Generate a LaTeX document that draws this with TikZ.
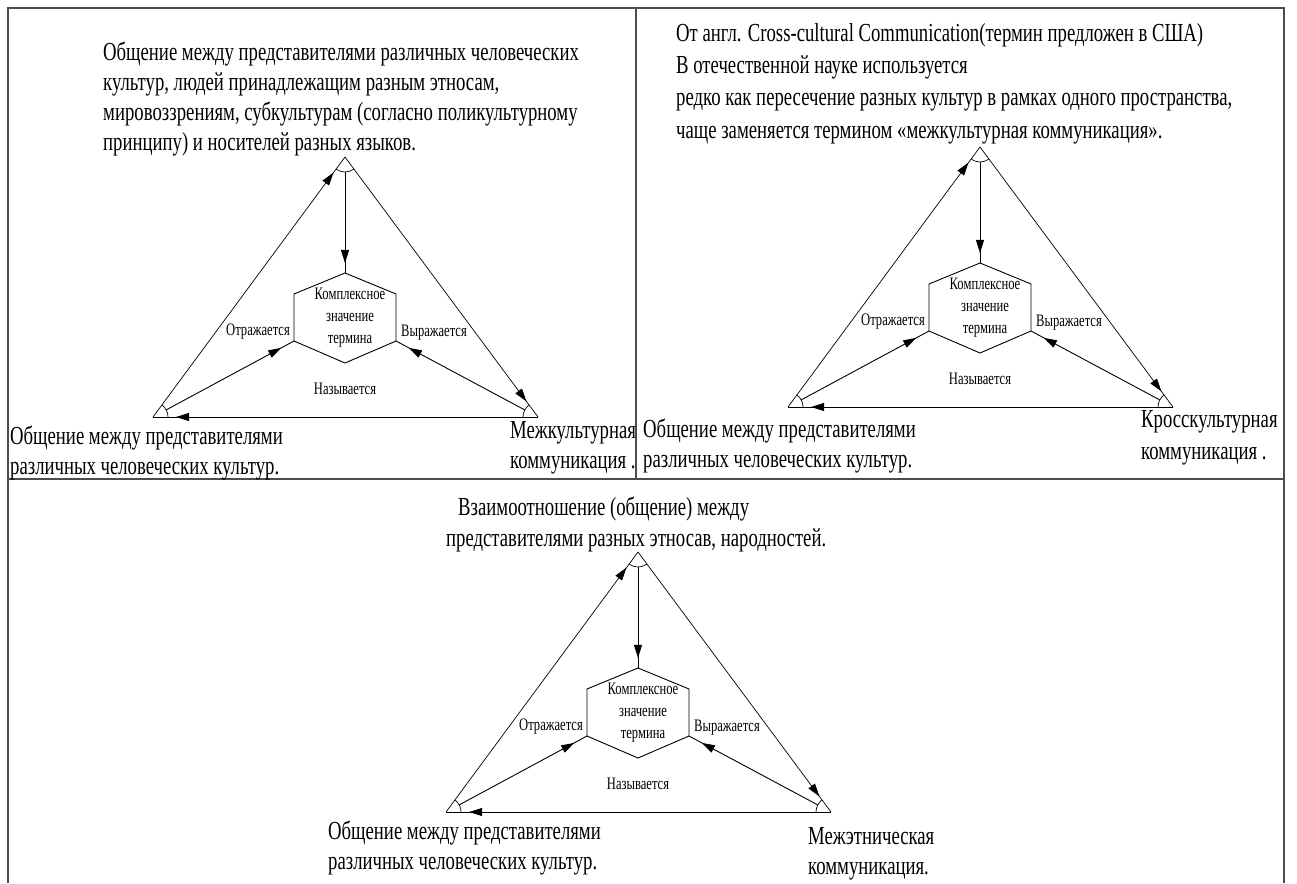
\documentclass[tikz,border=0pt]{standalone}
\usepackage{fontspec}
\setmainfont{Liberation Serif}[FakeStretch=0.72]
\usetikzlibrary{arrows.meta,decorations.markings}

\tikzset{
  tip at/.style={postaction={decorate},decoration={markings,
    mark=at position #1 with {\arrow{Triangle[length=13pt,width=8pt]}}}},
}

\begin{document}
\begin{tikzpicture}[x=1pt,y=1pt,
    corner/.style={circle,minimum size=30pt,inner sep=0pt},
    big/.style={font=\fontsize{26}{30}\selectfont,align=left,inner sep=0pt,anchor=north west},
    small/.style={font=\fontsize{17.5}{22}\selectfont,inner sep=0pt,align=center},
    frame/.style={line width=1.5pt,black!70}]
  \useasboundingbox (0,0) rectangle (1297,-883);
  \draw[frame] (8,-883) -- (8,-8) -- (1284,-8) -- (1284,-883);
  \draw[frame] (8,-479) -- (1284,-479);
  \draw[frame] (636,-8) -- (636,-479);

  \foreach \ax/\ay[count=\nn] in {345/-157, 980/-147, 638/-552}{%
    \begin{scope}[shift={(\ax,\ay)}]
      \node[corner] (apex-\nn) at (0,0) {};
      \node[corner] (lb-\nn) at (-192,-260) {};
      \node[corner] (rb-\nn) at (193,-260) {};
      \coordinate (ht-\nn) at (0,-116);
      \coordinate (hur-\nn) at (51,-137);
      \coordinate (hlr-\nn) at (51,-184);
      \coordinate (hb-\nn) at (0,-206);
      \coordinate (hll-\nn) at (-51,-184);
      \coordinate (hul-\nn) at (-51,-137);
      \draw[line width=.9pt] (ht-\nn) -- (hur-\nn) -- (hlr-\nn) -- (hb-\nn) -- (hll-\nn) -- (hul-\nn) -- cycle;
      \node[small] (term-\nn) at (5,-161) {Комплексное\\значение\\термина};
      % triangle with its corner marks
      \draw[line width=.7pt,tip at=.94] (lb-\nn.center) -- (apex-\nn.center);
      \draw[line width=.7pt,tip at=.94] (apex-\nn.center) -- (rb-\nn.center);
      \draw[line width=.9pt,tip at=.94] (rb-\nn.center) -- (lb-\nn.center);
      \draw[line width=.7pt] (apex-\nn.center) ++(233.6:15) arc[start angle=233.6,end angle=306.6,radius=15];
      \draw[line width=.7pt] (lb-\nn.center) ++(0:15) arc[start angle=0,end angle=53.6,radius=15];
      \draw[line width=.7pt] (rb-\nn.center) ++(126.6:15) arc[start angle=126.6,end angle=180,radius=15];
      % arrows to the hexagon
      \draw[line width=.9pt,tip at=.9] (apex-\nn) -- (ht-\nn);
      \draw[line width=.9pt,tip at=.9] (lb-\nn) -- (hll-\nn);
      \draw[line width=.9pt,tip at=.9] (rb-\nn) -- (hlr-\nn);
      \node[small] (refl-\nn) at (-87,-175) {Отражается};
      \node[small] (expr-\nn) at (89,-176) {Выражается};
      \node[small] (name-\nn) at (0,-232) {Называется};
    \end{scope}
  }

  \node[big] (def-1) at (103,-42) {Общение между представителями различных человеческих\\культур, людей принадлежащим разным этносам,\\мировоззрениям, субкультурам (согласно поликультурному\\принципу) и носителей разных языков.};
  \node[big,font=\fontsize{26}{32.3}\selectfont] (def-2) at (676,-23) {От англ. Cross-cultural Communication(термин предложен в США)\\В отечественной науке используется\\редко как пересечение разных культур в рамках одного пространства,\\чаще заменяется термином «межкультурная коммуникация».};
  \node[big,font=\fontsize{26}{31}\selectfont] (def-3) at (446,-497) {\hspace{12pt}Взаимоотношение (общение) между\\представителями разных этносав, народностей.};

  \node[big] (left-1) at (10,-426) {Общение между представителями\\различных человеческих культур.};
  \node[big] (right-1) at (510,-421) {Межкультурная\\коммуникация .};
  \node[big] (left-2) at (643,-419) {Общение между представителями\\различных человеческих культур.};
  \node[big,font=\fontsize{26}{32}\selectfont] (right-2) at (1141,-410) {Кросскультурная\\коммуникация .};
  \node[big] (left-3) at (328,-821) {Общение между представителями\\различных человеческих культур.};
  \node[big] (right-3) at (808,-827) {Межэтническая\\коммуникация.};
\end{tikzpicture}
\end{document}
